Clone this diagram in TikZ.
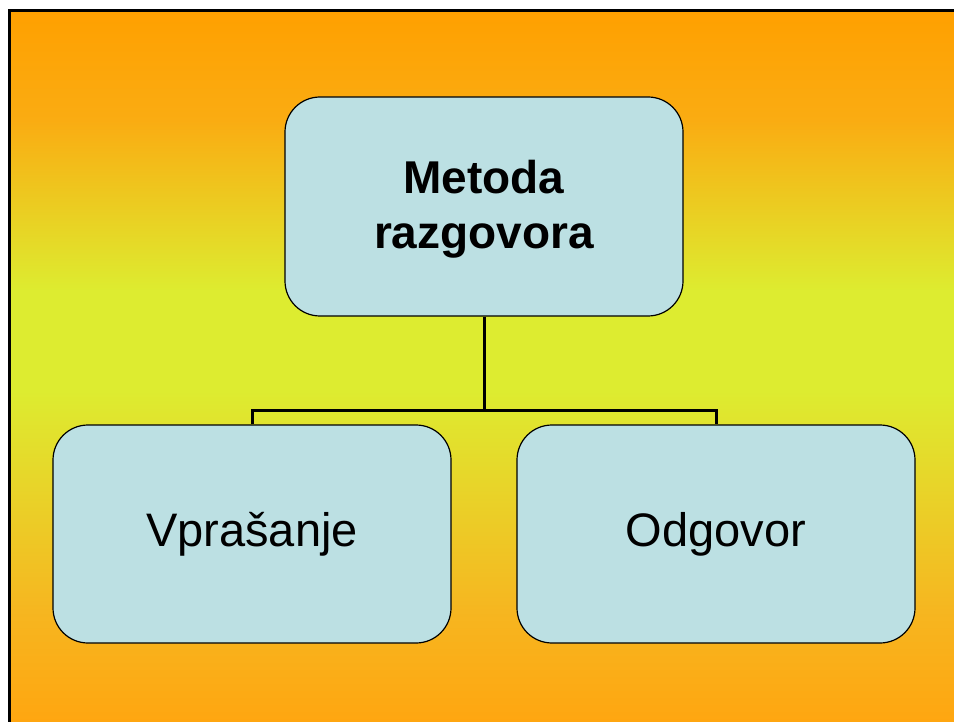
\documentclass[tikz,border=0pt]{standalone}
\usepackage{fontspec}
\setmainfont{Liberation Sans}
\definecolor{bgorange}{RGB}{255,160,0}
\definecolor{bgorangemid}{RGB}{250,172,18}
\definecolor{bgorangeb}{RGB}{255,166,16}
\definecolor{bgorangebmid}{RGB}{246,182,32}
\definecolor{bgyellow}{RGB}{221,236,48}
\definecolor{boxfill}{RGB}{188,224,227}
\tikzset{
  box/.style={draw=black, line width=1.2pt, fill=boxfill, rounded corners=35pt,
    minimum width=398pt, minimum height=218pt, inner sep=0pt, align=center,
    font=\fontsize{47}{55}\selectfont},
  link/.style={draw=black, line width=3pt}
}
\begin{document}
\begin{tikzpicture}[x=1pt,y=-1pt]
\useasboundingbox (0,0) rectangle (954,722);
\fill[white] (0,0) rectangle (954,722);
\fill[top color=bgorange, bottom color=bgorangemid] (9.5,10) rectangle (954,121);
\fill[top color=bgorangemid, bottom color=bgyellow] (9.5,120) rectangle (954,291);
\fill[bgyellow] (9.5,290) rectangle (954,391);
\fill[top color=bgyellow, bottom color=bgorangebmid] (9.5,390) rectangle (954,611);
\fill[top color=bgorangebmid, bottom color=bgorangeb] (9.5,610) rectangle (954,722);
\draw[line width=3pt, black] (9.5,722) -- (9.5,10.5) -- (954,10.5);
\node[box, minimum height=219pt, font=\fontsize{46}{55}\selectfont\bfseries] (top) at (484,206.5)
  {\raisebox{-4pt}[\height][\depth]{\begin{tabular}{@{}c@{}}Metoda\\razgovora\end{tabular}}};
\node[box] (left) at (252,534) {Vprašanje};
\node[box] (right) at (716,534) {Odgovor};
\coordinate (j) at (484,410);
\draw[link] (top.south) -- (j);
\draw[link] (left.north) |- (j) -| (right.north);
\end{tikzpicture}
\end{document}
